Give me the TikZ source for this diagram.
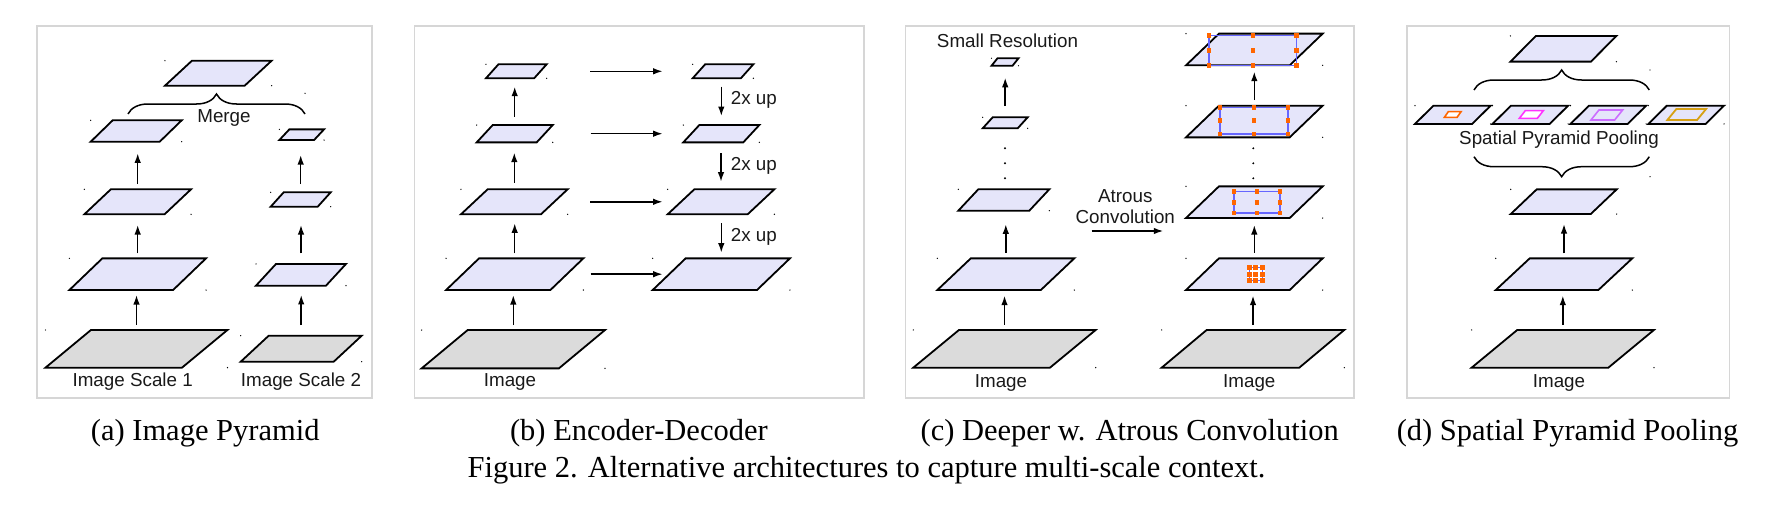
\documentclass[tikz,border=0pt]{standalone}
\usepackage{fontspec}
\setmainfont{Liberation Serif}
\newfontfamily\labfont{Liberation Sans}
\usetikzlibrary{calc,arrows.meta,decorations.pathreplacing}
\definecolor{lav}{RGB}{229,229,250}
\definecolor{imgray}{RGB}{219,219,219}
\definecolor{frm}{RGB}{214,214,214}
\definecolor{orng}{RGB}{255,102,0}
\definecolor{kblue}{RGB}{102,102,255}
\definecolor{mag}{RGB}{255,51,255}
\definecolor{vio}{RGB}{204,110,255}
\definecolor{gold}{RGB}{214,160,20}
% parallelogram: name, cx, cy, total width, height, skew, style
\newcommand\planeshape[7]{%
  \node[bbox, minimum width=#4pt, minimum height=#5pt] (#1) at (#2,#3) {};
  \path[#7] (#1.south west) -- ($(#1.south east)+(-#6,0)$) -- (#1.north east) -- ($(#1.north west)+(#6,0)$) -- cycle;
}
\newcommand\plane[7]{%
  \planeshape{#1}{#2}{#3}{#4}{#5}{#6}{#7}
  \fill (#1.north west) circle (0.7) (#1.south east) circle (0.7);
}
% atrous kernel: cx, cy, w, h, square size
\newcommand\kernel[5]{%
  \draw[kblue, line width=1.3pt] ({#1-#3/2},{#2-#4/2}) rectangle ({#1+#3/2},{#2+#4/2});
  \foreach \ki in {-1,0,1}{\foreach \kj in {-1,0,1}{
    \fill[orng] ({#1+(\ki)*#3/2-#5/2},{#2+(\kj)*#4/2-#5/2}) rectangle ++(#5,#5);}}
}
\begin{document}
\begin{tikzpicture}[x=1pt,y=-1pt,
  bbox/.style={draw=none,inner sep=0,outer sep=0},
  pl/.style={draw=black,line width=1.8pt,fill=lav},
  im/.style={draw=black,line width=1.8pt,fill=imgray},
  frame/.style={draw=frm,line width=1.5pt},
  arr/.style={-{Latex[length=9.5pt,width=6.5pt]},line width=1.5pt},
  sh/.style 2 args={shorten <=#1pt, shorten >=#2pt},
  lbl/.style={font=\labfont\fontsize{18.8}{20.7}\selectfont, inner sep=0, text=black!90},
  captxt/.style={font=\fontsize{30.5}{36}\selectfont, inner sep=0, anchor=base},
  brace/.style={decorate, decoration={brace, amplitude=20pt}, line width=1.5pt}]
\useasboundingbox (0,0) rectangle (1788,511);

% frames
\draw[frame] (37,26) rectangle (372,398);
\draw[frame] (414.5,26) rectangle (864,398);
\draw[frame] (905.7,26) rectangle (1354,398);
\draw[frame] (1406.8,26) rectangle (1729.5,398);

% ---------------- (a) Image Pyramid
\plane{aM}{218.3}{73.2}{106.7}{25}{27}{pl}
\plane{a3}{136.2}{131}{91}{21.4}{22}{pl}
\plane{a2}{137.7}{201.8}{106.7}{25}{26.5}{pl}
\plane{a1}{137.7}{274.2}{136.7}{31.7}{33}{pl}
\plane{a0}{136.5}{348.8}{182}{37.7}{45.5}{im}
\plane{b3}{301.7}{134.7}{44.7}{10.7}{10}{pl}
\plane{b2}{300.7}{199.5}{60}{14.4}{13}{pl}
\plane{b1}{301}{274.8}{90}{21.7}{20}{pl}
\plane{b0}{301.2}{348.7}{121}{26}{28}{im}
\draw[arr, sh={5}{5}] (a0.north) -- (a0.north |- a1.south);
\draw[arr, sh={5}{10.7}] (a1.north) -- (a1.north |- a2.south);
\draw[arr, sh={5.3}{11.6}] (a2.north) -- (a2.north |- a3.south);
\draw[arr, sh={10.7}{9.3}] (b0.north) -- (b0.north |- b1.south);
\draw[arr, sh={10.6}{18.3}] (b1.north) -- (b1.north |- b2.south);
\draw[arr, sh={8.3}{15}] (b2.north) -- (b2.north |- b3.south);
\coordinate (mbl) at (128,114);
\coordinate (mbr) at (305,114);
\draw[brace] (mbl) -- (mbr);
\fill (305,93.3) circle (0.7);
\node[lbl] (merge) at (224,118) {Merge};
\node[lbl] (is1) at (132.7,381.7) {Image Scale 1};
\node[lbl] (is2) at (301,381.7) {Image Scale 2};

% ---------------- (b) Encoder-Decoder
\plane{e1}{516.3}{71.3}{60.7}{14}{12.5}{pl}
\plane{e2}{514.7}{133.7}{76}{17.3}{16}{pl}
\plane{e3}{514.3}{201.8}{106.7}{25}{26.7}{pl}
\plane{e4}{514.7}{274.2}{137.3}{31.7}{33}{pl}
\plane{e0}{513.3}{349.2}{183.3}{38.3}{46}{im}
\plane{d1}{723}{71.3}{60.7}{14}{12.5}{pl}
\plane{d2}{721.3}{133.7}{76}{17.3}{16}{pl}
\plane{d3}{721}{201.8}{106.7}{25}{26.7}{pl}
\plane{d4}{721.3}{274.2}{137.3}{31.7}{33}{pl}
\draw[arr, sh={5}{5}] (e0.north) -- (e0.north |- e4.south);
\draw[arr, sh={5}{9}] (e4.north) -- (e4.north |- e3.south);
\draw[arr, sh={6.6}{10.3}] (e3.north) -- (e3.north |- e2.south);
\draw[arr, sh={8.3}{8.4}] (e2.north) -- (e2.north |- e1.south);
\draw[arr, sh={8.4}{9}] (d2.north |- d1.south) -- (d2.north);
\draw[arr, sh={11}{7.6}] (d3.north |- d2.south) -- (d3.north);
\draw[arr, sh={9}{5.7}] (d4.north |- d3.south) -- (d4.north);
\draw[arr, sh={43.8}{30}] (e1.east) -- (d1.west);
\draw[arr, sh={38}{20.6}] (e2.east) -- (d2.west);
\draw[arr, sh={22.8}{5}] (e3.east) -- (d3.west);
\draw[arr, sh={7.2}{-10}] (e4.east) -- (d4.west);
\node[lbl, anchor=west] (up1) at (730.7,100) {2x up};
\node[lbl, anchor=west] (up2) at (730.7,166) {2x up};
\node[lbl, anchor=west] (up3) at (730.7,236.7) {2x up};
\node[lbl] (imb) at (510,382.3) {Image};

% ---------------- (c) Deeper w. Atrous Convolution
\plane{c5}{1005}{62}{27}{7.5}{6}{pl}
\plane{c4}{1005.2}{122.8}{45}{11}{10}{pl}
\plane{c3}{1003.8}{200}{91}{21.4}{20}{pl}
\plane{c2}{1005.8}{274.2}{137}{31.7}{33.5}{pl}
\plane{c1}{1004.5}{348.8}{182.4}{37.7}{45.7}{im}
\draw[arr, sh={5}{5.6}] (c1.north) -- (c1.north |- c2.south);
\draw[arr, sh={5.6}{13.6}] (c2.north) -- (c2.north |- c3.south);
\draw[arr, sh={11.3}{12}] (c4.north) -- (c4.north |- c5.south);
\foreach \yy in {148.3,163.3,178.3}{\fill (1005,\yy) circle (1.1) (1253.3,\yy) circle (1.1);}
\node[lbl] (smallres) at (1007.5,41) {Small Resolution};
\plane{r5}{1254.3}{49.5}{136.7}{31.7}{33}{pl}
\plane{r4}{1254.3}{121.5}{136.7}{31.7}{33}{pl}
\plane{r3}{1254.3}{202.2}{136.7}{31.7}{33}{pl}
\plane{r2}{1254.3}{274.2}{136.7}{31.7}{33}{pl}
\plane{r1}{1253}{348.8}{182.6}{37.7}{45}{im}
\kernel{1252.9}{50.5}{87.7}{30}{4.6}
\kernel{1254}{120.7}{68}{26.7}{4.6}
\kernel{1257}{202.2}{46}{21.7}{4.6}
\fill[white] (1246.5,265.2) rectangle (1264.9,283);
\kernel{1255.7}{274.1}{13}{13}{5}
\draw[arr, sh={5}{5.6}] (r1.north) -- (r1.north |- r2.south);
\draw[arr, sh={5.6}{7}] (r2.north) -- (r2.north |- r3.south);
\draw[arr, sh={5.6}{6.3}] (r4.north) -- (r4.north |- r5.south);
\node[lbl, align=center] (atrous) at (1125.3,206.3) {Atrous\\Convolution};
\coordinate (as) at (1091.7,231);
\coordinate (ae) at (1163.3,231);
\draw[arr] (as) -- (ae);
\node[lbl] (imc1) at (1001,382.7) {Image};
\node[lbl] (imc2) at (1249.3,382.7) {Image};

% ---------------- (d) Spatial Pyramid Pooling
\plane{t}{1563.4}{48.8}{106}{25.7}{25.5}{pl}
\plane{p1}{1452.8}{114.8}{75.7}{18.3}{18.5}{pl}
\plane{p2}{1530.3}{114.8}{75.7}{18.3}{18.5}{pl}
\plane{p3}{1608.3}{114.8}{75.7}{18.3}{18.5}{pl}
\plane{p4}{1686.2}{114.8}{75.7}{18.3}{18.5}{pl}
\planeshape{q1}{1452.7}{114.5}{16.7}{5.7}{4}{draw=orng,line width=1.6pt,fill=white}
\planeshape{q2}{1531.3}{114.5}{24}{7.7}{6}{draw=mag,line width=1.6pt,fill=white}
\planeshape{q3}{1606.8}{115}{31.7}{10}{8}{draw=vio,line width=1.6pt}
\planeshape{q4}{1686.7}{114.5}{38.7}{11}{9}{draw=gold,line width=1.8pt}
\coordinate (ubl) at (1474,90);
\coordinate (ubr) at (1649.3,90);
\draw[brace] (ubl) -- (ubr);
\fill (1650,70) circle (0.7);
\node[lbl] (spp) at (1559,140) {Spatial Pyramid Pooling};
\coordinate (dbl) at (1474,156.7);
\coordinate (dbr) at (1649.3,156.7);
\draw[brace] (dbr) -- (dbl);
\fill (1650,176.7) circle (0.7);
\plane{s3}{1563.7}{201.7}{106}{24.7}{26}{pl}
\plane{s2}{1564}{274.2}{136.6}{31.7}{34}{pl}
\plane{s1}{1562.8}{348.8}{182.3}{37.7}{45.6}{im}
\draw[arr, sh={5}{5.6}] (s1.north) -- (s1.north |- s2.south);
\draw[arr, sh={5}{10}] (s2.north) -- (s2.north |- s3.south);
\node[lbl] (imd) at (1559,383.3) {Image};

% ---------------- captions
\node[captxt] (capa) at (205.2,440) {(a) Image Pyramid};
\node[captxt] (capb) at (638.9,440) {(b) Encoder-Decoder};
\node[captxt] (capc) at (1129.7,440) {(c) Deeper w. Atrous Convolution};
\node[captxt] (capd) at (1567.5,440) {(d) Spatial Pyramid Pooling};
\node[captxt] (fig) at (866.5,477) {Figure 2. Alternative architectures to capture multi-scale context.};
\end{tikzpicture}
\end{document}
